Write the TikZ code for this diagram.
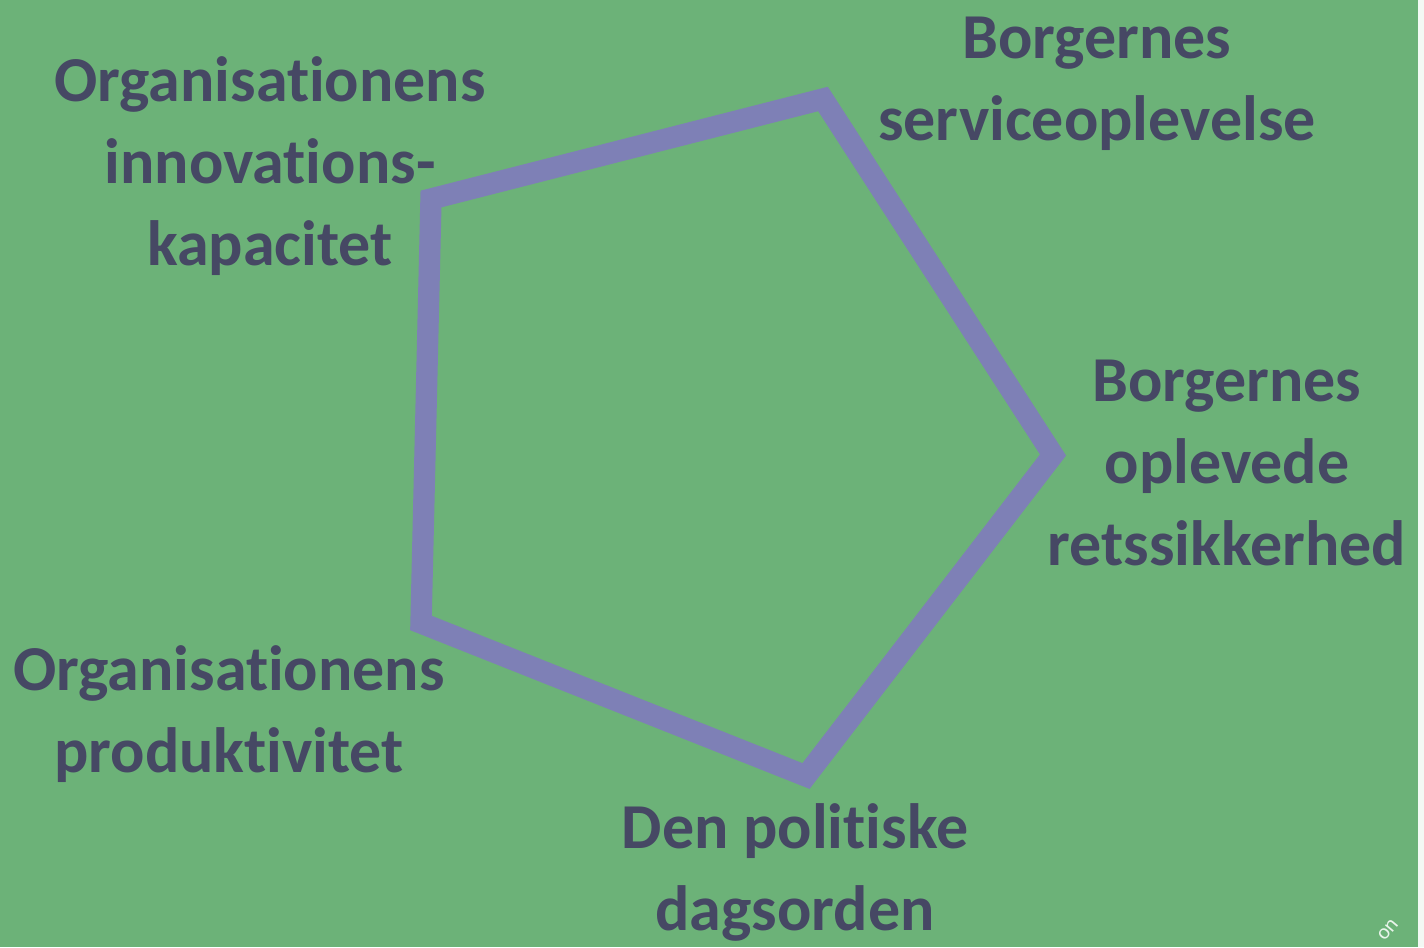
\documentclass[tikz,border=0pt]{standalone}
\usepackage{fontspec}
\setmainfont{Carlito}[Ligatures={TeX,NoCommon}]
\definecolor{bg}{RGB}{108,178,120}
\definecolor{txt}{RGB}{70,72,100}
\definecolor{penta}{RGB}{126,128,182}
\begin{document}
\begin{tikzpicture}[x=0.75pt,y=-0.75pt,
  lbl/.style={font=\fontsize{48}{61.5}\selectfont\bfseries, text=txt, align=center, inner sep=0pt, anchor=base},
  edge/.style={draw=penta, line width=16pt, line join=miter}]
\fill[bg] (0,0) rectangle (1424,947);
\fill[white!92!bg] (1418,0) rectangle (1424,947);
\useasboundingbox (0,0) rectangle (1424,947);
\coordinate (A) at (431,199);
\coordinate (B) at (823,99);
\coordinate (C) at (1053,455);
\coordinate (D) at (806,776);
\coordinate (E) at (421,623);
\draw[edge] (A) -- (B) -- (C) -- (D) -- (E) -- cycle;
\node[lbl] (l1) at (270,265) {Organisationens\\innovations-\\kapacitet};
\node[lbl] (l2) at (1097,140) {Borgernes\\serviceoplevelse};
\node[lbl] (l3) at (1227,565) {Borgernes\\oplevede\\retssikkerhed};
\node[lbl] (l4) at (229,772) {Organisationens\\produktivitet};
\node[lbl] (l5) at (795,930) {Den politiske\\dagsorden};
\node[font=\fontsize{16}{18}\selectfont, text=white!85!bg, rotate=50, inner sep=0pt] (wm) at (1388,930) {on};
\end{tikzpicture}
\end{document}
